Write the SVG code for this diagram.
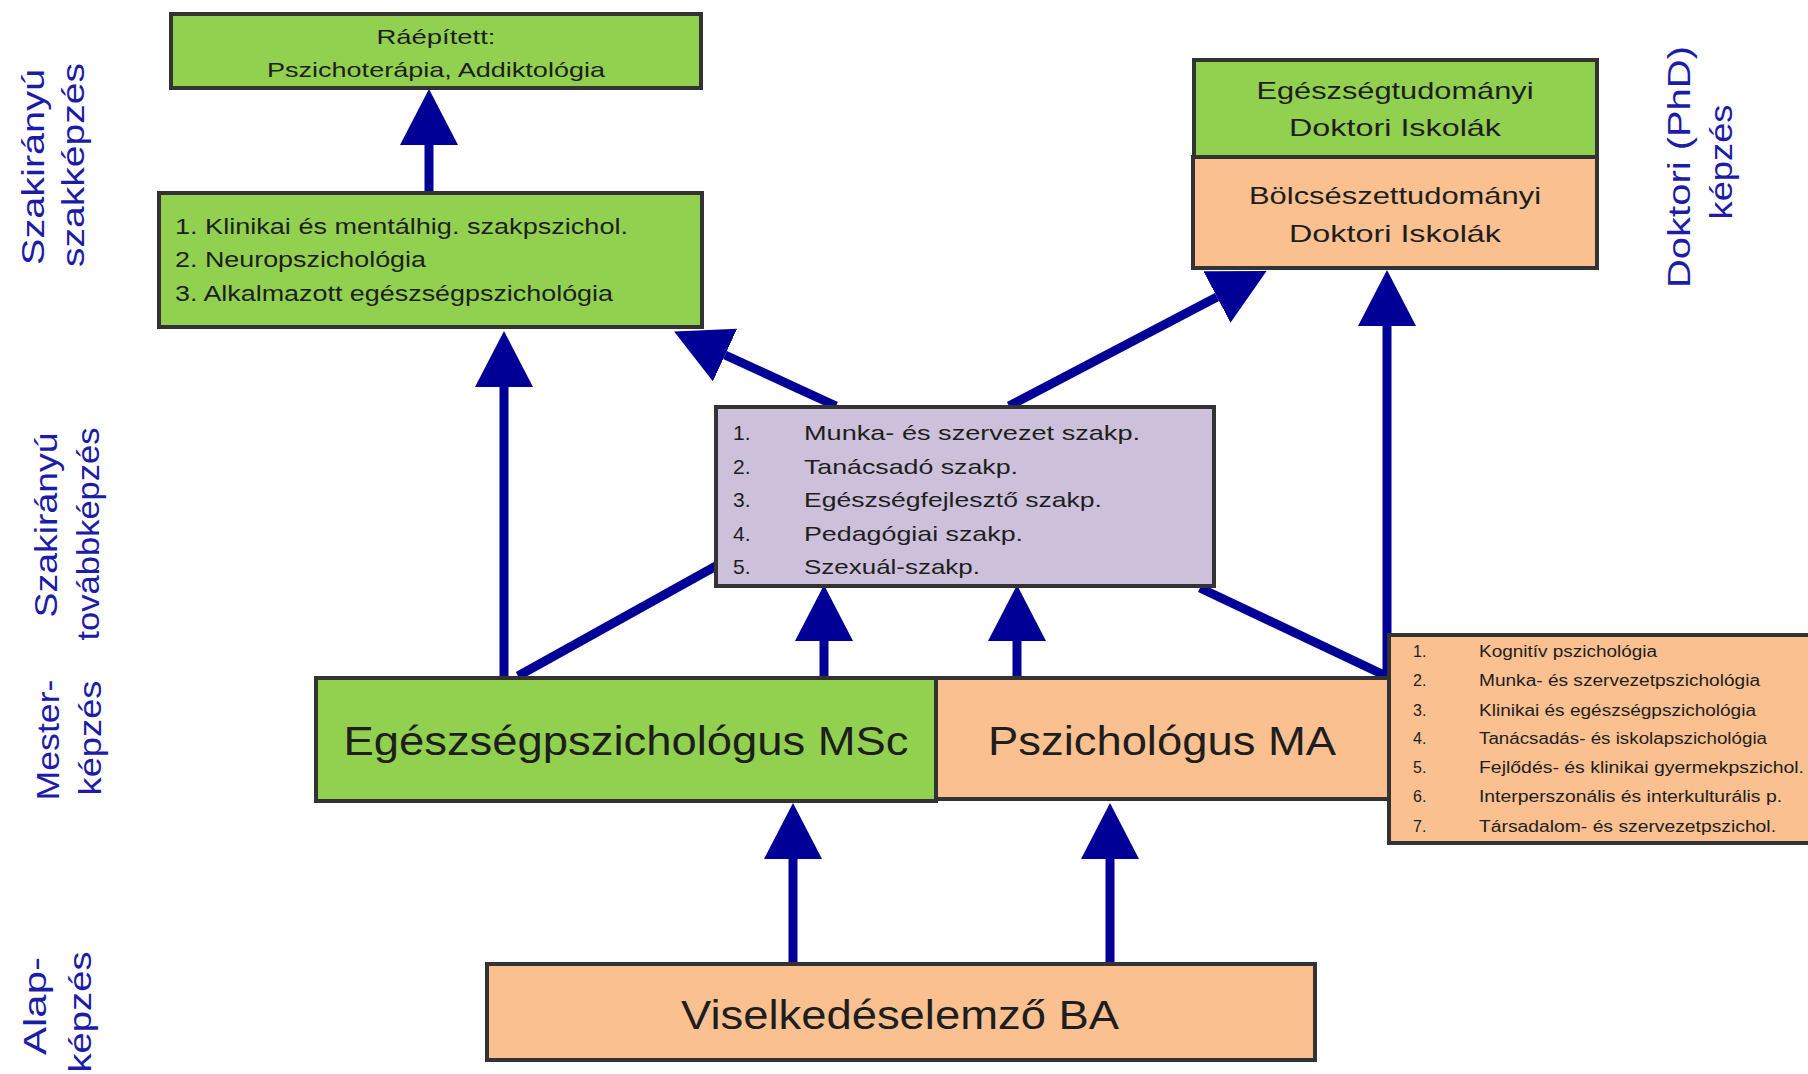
<svg xmlns="http://www.w3.org/2000/svg" width="1808" height="1074" viewBox="0 0 1808 1074">
<defs>
<marker id="ah" markerUnits="userSpaceOnUse" markerWidth="56" markerHeight="58" refX="0" refY="29" orient="auto">
<path d="M0,0 L56,29 L0,58 z" fill="#000096"/>
</marker>
<style>
.box{stroke:#333;stroke-width:4}
.g{fill:#92d050}
.o{fill:#fac090}
.p{fill:#ccc0da}
.t{font-family:"Liberation Sans",Arial,sans-serif;fill:#1e1e1e}
.c{text-anchor:middle}
.lbl{font-family:"Liberation Sans",Arial,sans-serif;fill:#1c1ca8;font-size:32px;text-anchor:middle}
.con{stroke:#000096;stroke-width:9;fill:none}
.arr{marker-end:url(#ah)}
</style>
</defs>
<g id="labels">
<text class="lbl" transform="translate(44,167) rotate(-90)" textLength="196" lengthAdjust="spacingAndGlyphs">Szakirányú</text>
<text class="lbl" transform="translate(84,165) rotate(-90)" textLength="204" lengthAdjust="spacingAndGlyphs">szakképzés</text>
<text class="lbl" transform="translate(57,525) rotate(-90)" textLength="185" lengthAdjust="spacingAndGlyphs">Szakirányú</text>
<text class="lbl" transform="translate(99,534) rotate(-90)" textLength="213" lengthAdjust="spacingAndGlyphs">továbbképzés</text>
<text class="lbl" transform="translate(59,740) rotate(-90)" textLength="121" lengthAdjust="spacingAndGlyphs">Mester-</text>
<text class="lbl" transform="translate(101,738) rotate(-90)" textLength="115" lengthAdjust="spacingAndGlyphs">képzés</text>
<text class="lbl" transform="translate(46,1006) rotate(-90)" textLength="98" lengthAdjust="spacingAndGlyphs">Alap-</text>
<text class="lbl" transform="translate(91,1012) rotate(-90)" textLength="121" lengthAdjust="spacingAndGlyphs">képzés</text>
<text class="lbl" transform="translate(1690,167) rotate(-90)" textLength="242" lengthAdjust="spacingAndGlyphs">Doktori (PhD)</text>
<text class="lbl" transform="translate(1732,162) rotate(-90)" textLength="115" lengthAdjust="spacingAndGlyphs">képzés</text>
</g>
<g id="connectors">
<line class="con arr" x1="429" y1="193" x2="429" y2="145"/>
<line class="con arr" x1="504" y1="678" x2="504" y2="387"/>
<line class="con arr" x1="836" y1="406" x2="725" y2="355"/>
<line class="con arr" x1="1009" y1="406" x2="1217" y2="297"/>
<line class="con arr" x1="1387" y1="676" x2="1387" y2="326"/>
<line class="con arr" x1="824" y1="678" x2="824" y2="641"/>
<line class="con arr" x1="1017" y1="678" x2="1017" y2="641"/>
<line class="con arr" x1="793" y1="964" x2="793" y2="859"/>
<line class="con arr" x1="1110" y1="964" x2="1110" y2="859"/>
<line class="con" x1="518" y1="676" x2="716" y2="566"/>
<line class="con" x1="1200" y1="588" x2="1384" y2="675"/>
</g>
<g id="n-raepitett">
<rect class="box g" x="171" y="14" width="530" height="74"/>
<text class="t c" x="436" y="44" font-size="21" textLength="119" lengthAdjust="spacingAndGlyphs">Ráépített:</text>
<text class="t c" x="436" y="77" font-size="21" textLength="338" lengthAdjust="spacingAndGlyphs">Pszichoterápia, Addiktológia</text>
</g>
<g id="n-szakkepzes">
<rect class="box g" x="159" y="193" width="543" height="134"/>
<text class="t" x="175" y="234" font-size="22" textLength="453" lengthAdjust="spacingAndGlyphs">1. Klinikai  és mentálhig. szakpszichol.</text>
<text class="t" x="175" y="267" font-size="22" textLength="251" lengthAdjust="spacingAndGlyphs">2. Neuropszichológia</text>
<text class="t" x="175" y="301" font-size="22" textLength="438" lengthAdjust="spacingAndGlyphs">3. Alkalmazott  egészségpszichológia</text>
</g>
<g id="n-egeszsegtud">
<rect class="box g" x="1194" y="60" width="403" height="97"/>
<text class="t c" x="1395" y="99" font-size="24" textLength="277" lengthAdjust="spacingAndGlyphs">Egészségtudományi</text>
<text class="t c" x="1395" y="136" font-size="24" textLength="212" lengthAdjust="spacingAndGlyphs">Doktori Iskolák</text>
</g>
<g id="n-bolcseszet">
<rect class="box o" x="1193" y="157" width="404" height="111"/>
<text class="t c" x="1395" y="204" font-size="24" textLength="292" lengthAdjust="spacingAndGlyphs">Bölcsészettudományi</text>
<text class="t c" x="1395" y="242" font-size="24" textLength="212" lengthAdjust="spacingAndGlyphs">Doktori Iskolák</text>
</g>
<g id="n-tovabbkepzes">
<rect class="box p" x="716" y="407" width="498" height="179"/>
<g class="t" font-size="21">
<text x="733" y="440">1.</text><text x="804" y="440" textLength="336" lengthAdjust="spacingAndGlyphs">Munka- és szervezet szakp.</text>
<text x="733" y="474">2.</text><text x="804" y="474" textLength="214" lengthAdjust="spacingAndGlyphs">Tanácsadó szakp.</text>
<text x="733" y="507">3.</text><text x="804" y="507" textLength="298" lengthAdjust="spacingAndGlyphs">Egészségfejlesztő  szakp.</text>
<text x="733" y="541">4.</text><text x="804" y="541" textLength="219" lengthAdjust="spacingAndGlyphs">Pedagógiai szakp.</text>
<text x="733" y="574">5.</text><text x="804" y="574" textLength="176" lengthAdjust="spacingAndGlyphs">Szexuál-szakp.</text>
</g>
</g>
<g id="n-msc">
<rect class="box g" x="316" y="678" width="620" height="123"/>
<text class="t c" x="626" y="755" font-size="40" textLength="565" lengthAdjust="spacingAndGlyphs">Egészségpszichológus MSc</text>
</g>
<g id="n-ma">
<rect class="box o" x="936" y="678" width="453" height="121"/>
<text class="t c" x="1162" y="755" font-size="40" textLength="348" lengthAdjust="spacingAndGlyphs">Pszichológus MA</text>
</g>
<g id="n-ma-lista">
<rect class="box o" x="1389" y="635" width="430" height="208"/>
<g class="t" font-size="16">
<text x="1413" y="657">1.</text><text x="1479" y="657" textLength="178" lengthAdjust="spacingAndGlyphs">Kognitív pszichológia</text>
<text x="1413" y="686">2.</text><text x="1479" y="686" textLength="281" lengthAdjust="spacingAndGlyphs">Munka- és szervezetpszichológia</text>
<text x="1413" y="716">3.</text><text x="1479" y="716" textLength="277" lengthAdjust="spacingAndGlyphs">Klinikai és egészségpszichológia</text>
<text x="1413" y="744">4.</text><text x="1479" y="744" textLength="288" lengthAdjust="spacingAndGlyphs">Tanácsadás- és iskolapszichológia</text>
<text x="1413" y="773">5.</text><text x="1479" y="773" textLength="325" lengthAdjust="spacingAndGlyphs">Fejlődés- és klinikai gyermekpszichol.</text>
<text x="1413" y="802">6.</text><text x="1479" y="802" textLength="303" lengthAdjust="spacingAndGlyphs">Interperszonális  és interkulturális  p.</text>
<text x="1413" y="832">7.</text><text x="1479" y="832" textLength="297" lengthAdjust="spacingAndGlyphs">Társadalom- és szervezetpszichol.</text>
</g>
</g>
<g id="n-ba">
<rect class="box o" x="487" y="964" width="828" height="96"/>
<text class="t c" x="900" y="1029" font-size="40" textLength="438" lengthAdjust="spacingAndGlyphs">Viselkedéselemző BA</text>
</g>
</svg>
